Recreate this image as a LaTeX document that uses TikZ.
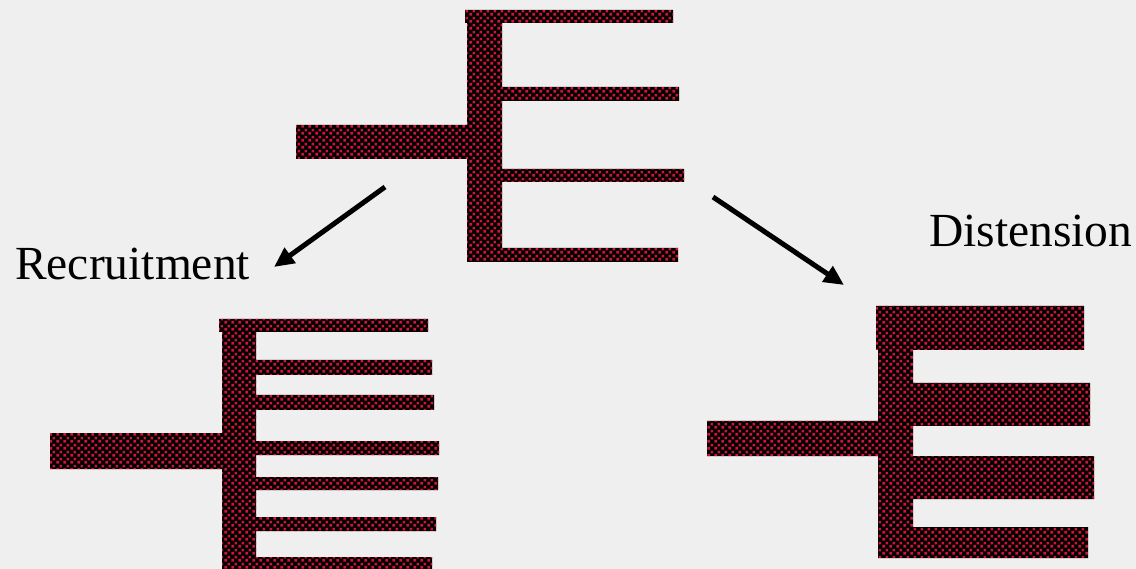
\documentclass[tikz,border=0pt]{standalone}
\usepackage{fontspec}
\setmainfont{Liberation Serif}
\usetikzlibrary{patterns,arrows.meta}

% red squares on a black ground, staggered
\pgfdeclarepatternformonly{redsquares}{\pgfpointorigin}{\pgfpoint{7pt}{7pt}}{\pgfpoint{7pt}{7pt}}{%
  \pgfpathrectangle{\pgfpoint{0.5pt}{0.5pt}}{\pgfpoint{3pt}{3pt}}%
  \pgfpathrectangle{\pgfpoint{4pt}{4pt}}{\pgfpoint{3pt}{3pt}}%
  \pgfusepath{fill}}

\definecolor{paper}{HTML}{EFEFEF}
\definecolor{dotred}{HTML}{D3143A}

\tikzset{
  tissue/.style={fill=black, postaction={pattern=redsquares, pattern color=dotred}},
  label/.style={font=\fontsize{47.5}{54}\selectfont, inner sep=0pt, anchor=base west},
  growth/.style={line width=5pt, -{Triangle[length=20pt,width=18pt]}}
}

\begin{document}
\begin{tikzpicture}[x=1pt,y=-1pt]
\fill[paper] (0,0) rectangle (1136,569);
\useasboundingbox (0,0) rectangle (1136,569);

% original vessel tree
\path[tissue]
  (296,125) rectangle (468,159)
  (467,10) rectangle (502,262)
  (465,10) rectangle (673,23)
  (502,87) rectangle (679,101)
  (502,169) rectangle (684,182)
  (470,248) rectangle (678,262);

% after recruitment: more, thin branches
\path[tissue]
  (50,433) rectangle (223,469)
  (222,319) rectangle (256,569)
  (219,319) rectangle (428,332)
  (256,360) rectangle (432,375)
  (256,395) rectangle (434,410)
  (256,441) rectangle (439,455)
  (256,477) rectangle (438,490)
  (256,517) rectangle (436,531)
  (256,557) rectangle (432,569);

% after distension: same branches, wider
\path[tissue]
  (707,421) rectangle (879,456)
  (878,306) rectangle (913,558)
  (876,306) rectangle (1084,350)
  (913,383) rectangle (1090,426)
  (913,456) rectangle (1094,499)
  (878,527) rectangle (1088,558);

% arrow ends
\coordinate (recA) at (385,187);
\coordinate (recB) at (274,267);
\coordinate (disA) at (713,197);
\coordinate (disB) at (844,285);
\draw[growth] (recA) -- (recB);
\draw[growth] (disA) -- (disB);

\node[label] (rec) at (15,280) {Recruitment};
\node[label] (dis) at (929,247) {Distension};
\end{tikzpicture}
\end{document}
